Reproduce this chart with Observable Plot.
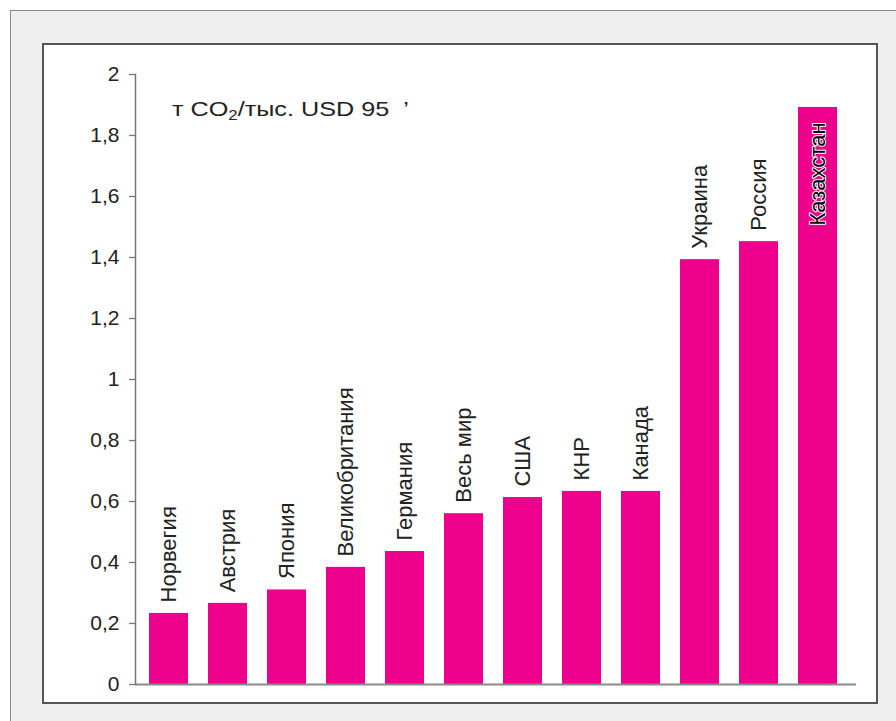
<!DOCTYPE html>
<html><head><meta charset="utf-8">
<script src="https://cdn.jsdelivr.net/npm/d3@7"></script>
<script src="https://cdn.jsdelivr.net/npm/@observablehq/plot@0.6"></script>
<style>
body{margin:0;background:#fff;width:896px;height:721px;overflow:hidden;position:relative;font-family:"Liberation Sans",Arial,sans-serif}
#outer{position:absolute;left:10px;top:10px;width:900px;height:720px;background:#efefef;border-left:1.5px solid #8a8a8a;border-top:1.5px solid #8a8a8a}
#inner{position:absolute;left:42px;top:43px;width:836px;height:661px;box-sizing:border-box;background:#fff;border:2px solid #555}
#chart{position:absolute;left:0;top:0}
#title{position:absolute;left:172px;top:97px;font-size:21px;color:#222;white-space:nowrap;transform:scaleX(1.2);transform-origin:left top}
#title sub{font-size:14px;vertical-align:-4px;line-height:0}
</style></head>
<body>
<div id="outer"></div>
<div id="inner"></div>
<div id="chart"></div>
<div id="title">т CO<sub>2</sub>/тыс. USD 95 &nbsp;’</div>
<script>
const countries = ["Норвегия","Австрия","Япония","Великобритания","Германия","Весь мир","США","КНР","Канада","Украина","Россия","Казахстан"];
const values = [0.233,0.266,0.31,0.384,0.436,0.56,0.613,0.633,0.633,1.393,1.452,1.892];
const yTicks = [0,0.2,0.4,0.6,0.8,1,1.2,1.4,1.6,1.8,2];
const insideLabel = ["Казахстан"];

const data = countries.map((c,i)=>({country:c, value:values[i]}));
const outside = data.filter(d=>!insideLabel.includes(d.country));
const inside = data.filter(d=>insideLabel.includes(d.country));
const fmt = v => String(v).replace(".", ",");

const chart = Plot.plot({
  width: 896, height: 721,
  marginLeft: 135, marginRight: 40, marginTop: 74, marginBottom: 37,
  style: {background: "transparent", fontFamily: "'Liberation Sans', Arial, sans-serif", fontSize: "21px", color: "#222"},
  x: {domain: countries, axis: null, paddingInner: 0.34, paddingOuter: 0.28, align: 0.42},
  y: {domain: [0, 2], label: null},
  marks: [
    Plot.barY(data, {x: "country", y: "value", fill: "#ec008c"}),
    Plot.ruleY([0], {stroke: "#8a8a8a", strokeWidth: 2}),
    Plot.frame({anchor: "left", stroke: "#777", strokeWidth: 1.5}),
    Plot.axisY({ticks: yTicks, tickFormat: fmt, tickSize: 6, tickPadding: 10, stroke: "#777", strokeWidth: 1.3, fontSize: 21, label: null, fill: "#222"}),
    Plot.text(outside, {x: "country", y: "value", text: "country", rotate: -90, textAnchor: "start", dy: -11, fontSize: 22, fill: "#222"}),
    Plot.text(inside, {x: "country", y: "value", text: "country", rotate: -90, textAnchor: "end", dy: 15, fontSize: 22, fill: "#000", stroke: "#fff", strokeWidth: 2, paintOrder: "stroke"})
  ]
});
document.getElementById("chart").append(chart);
</script>
</body></html>
